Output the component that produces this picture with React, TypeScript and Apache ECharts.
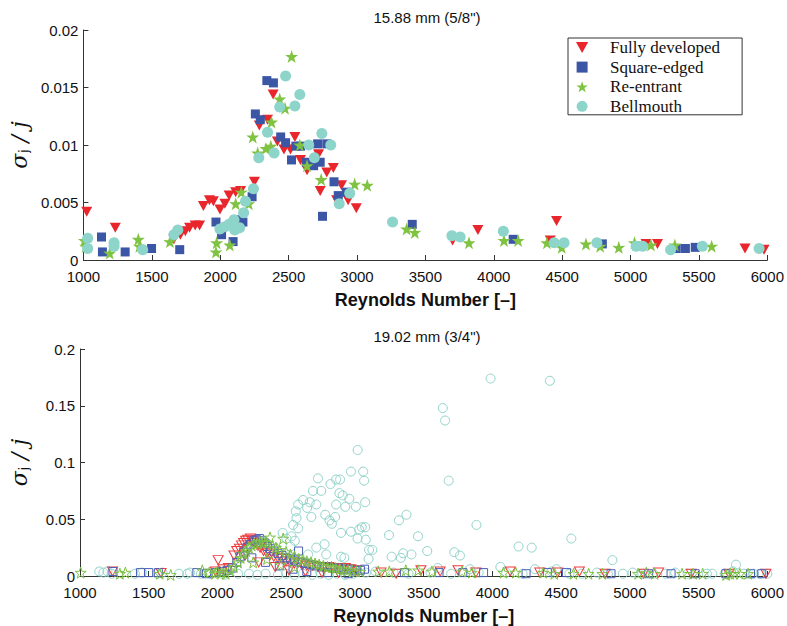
import React, { useEffect, useRef } from "react";
import * as echarts from "echarts";

// ---- 15.88 mm (5/8") tube ----
const fullyDevelopedTop: [number, number][] = [
  [1024, 0.0042], [1233, 0.0028], [1661, 0.0018], [1709, 0.0022], [1745, 0.0025], [1776, 0.0028],
  [1817, 0.003], [1849, 0.003], [1877, 0.0047], [1921, 0.0052], [1950, 0.0051], [1998, 0.0044],
  [2034, 0.0049], [2065, 0.0056], [2113, 0.0059], [2149, 0.006], [2250, 0.0068], [2286, 0.0117],
  [2346, 0.0122], [2387, 0.0144], [2418, 0.0103], [2466, 0.0096], [2514, 0.0096], [2546, 0.0107],
  [2587, 0.0087], [2635, 0.0078], [2719, 0.0092], [2731, 0.006], [2779, 0.0076], [2827, 0.008],
  [2851, 0.0052], [2887, 0.0065], [2935, 0.0052], [2995, 0.0045], [3699, 0.0017], [3884, 0.0026],
  [4413, 0.0017], [4459, 0.0034], [5113, 0.0014], [5197, 0.0014], [5837, 0.001], [5976, 0.0009],
];
const squareEdgedTop: [number, number][] = [
  [1132, 0.002], [1139, 0.0007], [1305, 0.0007], [1498, 0.001], [1704, 0.0009], [1969, 0.0033],
  [2010, 0.0022], [2094, 0.0016], [2118, 0.0035], [2166, 0.0033], [2233, 0.0055], [2257, 0.0127],
  [2293, 0.0122], [2341, 0.0156], [2389, 0.0154], [2442, 0.0107], [2478, 0.0102], [2521, 0.0087],
  [2553, 0.0099], [2587, 0.0099], [2630, 0.0085], [2683, 0.0082], [2712, 0.0101], [2731, 0.0085],
  [2748, 0.0038], [2779, 0.0101], [2832, 0.0068], [2863, 0.0056], [2923, 0.0059], [3404, 0.0031],
  [4142, 0.0018], [4794, 0.0014], [5334, 0.001], [5401, 0.001], [5473, 0.0011],
];
const reEntrantTop: [number, number][] = [
  [1007, 0.0017], [1017, 0.0012], [1192, 0.0006], [1401, 0.0018], [1409, 0.0012], [1632, 0.0016],
  [1969, 0.0007], [1974, 0.0015], [2070, 0.0013], [2113, 0.0049], [2154, 0.0059], [2209, 0.0049],
  [2238, 0.0107], [2274, 0.0093], [2334, 0.0097], [2370, 0.0099], [2375, 0.012], [2435, 0.014],
  [2474, 0.0132], [2522, 0.0177], [2582, 0.01], [2635, 0.0082], [2738, 0.007], [2983, 0.0066],
  [3075, 0.0065], [3363, 0.0027], [3423, 0.0024], [3819, 0.0015], [4075, 0.0017], [4178, 0.0017],
  [4389, 0.0015], [4497, 0.0011], [4674, 0.0014], [4778, 0.0012], [4914, 0.0011], [5029, 0.0015],
  [5149, 0.0013], [5324, 0.0013], [5593, 0.0012],
];
const bellmouthTop: [number, number][] = [
  [1031, 0.0019], [1031, 0.001], [1224, 0.0015], [1224, 0.0012], [1433, 0.0009], [1661, 0.0022],
  [1690, 0.0026], [1998, 0.0027], [2034, 0.0029], [2065, 0.0031], [2101, 0.0035], [2106, 0.0026],
  [2142, 0.0028], [2171, 0.0041], [2185, 0.0051], [2243, 0.0062], [2282, 0.0089], [2346, 0.0111],
  [2394, 0.0093], [2435, 0.0133], [2478, 0.016], [2546, 0.0134], [2582, 0.0144], [2647, 0.01],
  [2688, 0.0089], [2743, 0.011], [2808, 0.01], [2870, 0.0049], [2947, 0.0058], [3260, 0.0033],
  [3694, 0.0021], [3754, 0.002], [4070, 0.0025], [4442, 0.0015], [4514, 0.0015], [4754, 0.0015],
  [5041, 0.0012], [5089, 0.0012], [5293, 0.0009], [5525, 0.0012], [5940, 0.001],
];

// ---- 19.02 mm (3/4") tube ----
const fullyDevelopedBottom: [number, number][] = [
  [1237, 0.004], [1590, 0.0026], [1985, 0.004], [2005, 0.014], [2040, 0.006], [2080, 0.007],
  [2120, 0.018], [2140, 0.022], [2160, 0.024], [2175, 0.027], [2190, 0.029], [2205, 0.031],
  [2220, 0.032], [2240, 0.033], [2255, 0.031], [2270, 0.029], [2290, 0.027], [2310, 0.025],
  [2335, 0.022], [2360, 0.02], [2385, 0.019], [2410, 0.017], [2440, 0.016], [2470, 0.015],
  [2500, 0.013], [2530, 0.012], [2560, 0.011], [2590, 0.012], [2620, 0.01], [2650, 0.009],
  [2690, 0.009], [2730, 0.008], [2770, 0.007], [2810, 0.008], [2850, 0.007], [2890, 0.006],
  [2930, 0.007], [2970, 0.006], [3010, 0.005], [2200, 0.018], [2300, 0.012], [2420, 0.008],
  [2520, 0.005], [2640, 0.004], [2760, 0.003], [2880, 0.003], [3190, 0.003], [3300, 0.002],
  [3480, 0.005], [3620, 0.004], [3750, 0.005], [3880, 0.003], [4130, 0.004], [4345, 0.003],
  [4475, 0.003], [4633, 0.004], [4820, 0.002], [5100, 0.002], [5209, 0.003], [5446, 0.002],
  [5720, 0.002], [5990, 0.002],
];
const squareEdgedBottom: [number, number][] = [
  [1240, 0.004], [1440, 0.003], [1500, 0.003], [1570, 0.003], [1850, 0.003], [1920, 0.002],
  [1990, 0.003], [2030, 0.004], [2070, 0.005], [2110, 0.007], [2140, 0.012], [2165, 0.017],
  [2190, 0.021], [2215, 0.025], [2240, 0.028], [2265, 0.031], [2285, 0.032], [2305, 0.033],
  [2325, 0.031], [2345, 0.029], [2365, 0.026], [2385, 0.024], [2410, 0.022], [2440, 0.02],
  [2470, 0.018], [2500, 0.016], [2530, 0.015], [2560, 0.014], [2590, 0.022], [2610, 0.012],
  [2640, 0.011], [2680, 0.01], [2720, 0.009], [2760, 0.008], [2800, 0.008], [2840, 0.007],
  [2880, 0.007], [2920, 0.006], [2960, 0.006], [3000, 0.005], [3040, 0.005], [3070, 0.006],
  [2250, 0.016], [2350, 0.012], [2450, 0.009], [2550, 0.006], [2650, 0.004], [2800, 0.003],
  [2950, 0.002], [3360, 0.003], [3612, 0.003], [3785, 0.003], [3936, 0.003], [4245, 0.002],
  [4400, 0.003], [4539, 0.003], [4863, 0.002], [5137, 0.002], [5300, 0.002], [5475, 0.002],
  [5698, 0.002], [5878, 0.002], [5960, 0.002],
];
const reEntrantBottom: [number, number][] = [
  [1005, 0.003], [1290, 0.002], [1330, 0.003], [1580, 0.002], [1660, 0.001], [1890, 0.005],
  [1940, 0.003], [1980, 0.002], [2000, 0.004], [2030, 0.003], [2060, 0.002], [2090, 0.005],
  [2120, 0.008], [2150, 0.012], [2170, 0.016], [2190, 0.02], [2210, 0.022], [2230, 0.025],
  [2250, 0.027], [2270, 0.028], [2290, 0.029], [2310, 0.03], [2335, 0.03], [2360, 0.029],
  [2382, 0.034], [2400, 0.027], [2425, 0.025], [2450, 0.023], [2478, 0.033], [2500, 0.021],
  [2530, 0.019], [2560, 0.017], [2590, 0.015], [2620, 0.014], [2650, 0.013], [2680, 0.012],
  [2710, 0.011], [2740, 0.01], [2770, 0.009], [2800, 0.008], [2830, 0.008], [2860, 0.007],
  [2890, 0.006], [2920, 0.006], [2950, 0.005], [2980, 0.005], [3010, 0.004], [3040, 0.004],
  [2260, 0.012], [2360, 0.015], [2460, 0.01], [2560, 0.008], [3170, 0.004], [3250, 0.004],
  [3370, 0.005], [3460, 0.005], [3560, 0.004], [3780, 0.004], [3850, 0.003], [4080, 0.003],
  [4170, 0.003], [4370, 0.003], [4450, 0.002], [4590, 0.002], [4700, 0.002], [4800, 0.002],
  [5060, 0.002], [5120, 0.003], [5180, 0.002], [5380, 0.002], [5460, 0.002], [5530, 0.002],
  [5700, 0.001], [5730, 0.002], [5760, 0.002], [5800, 0.002], [5860, 0.002],
];
const bellmouthBottom: [number, number][] = [
  [3020, 0.111], [2971, 0.092], [3060, 0.092], [3067, 0.084], [2731, 0.086], [2863, 0.085],
  [2892, 0.085], [2695, 0.075], [2755, 0.075], [2822, 0.081], [2887, 0.073], [2911, 0.071],
  [2959, 0.068], [2930, 0.061], [3007, 0.061], [3075, 0.065], [2623, 0.067], [2587, 0.063],
  [2652, 0.06], [2671, 0.065], [2719, 0.063], [2784, 0.054], [2815, 0.049], [2863, 0.063],
  [2856, 0.052], [2570, 0.057], [2575, 0.051], [2550, 0.045], [2587, 0.042], [2683, 0.052],
  [2832, 0.046], [2899, 0.038], [2971, 0.039], [3031, 0.041], [3050, 0.043], [3075, 0.043],
  [3019, 0.033], [3079, 0.032], [2474, 0.038], [2502, 0.033], [2539, 0.035], [2563, 0.031],
  [2531, 0.026], [2659, 0.019], [2719, 0.025], [2779, 0.028], [2791, 0.019], [2899, 0.017],
  [2923, 0.016], [3103, 0.023], [3127, 0.023], [3099, 0.015], [3248, 0.036], [3320, 0.049],
  [3987, 0.174], [4418, 0.172], [3639, 0.148], [3656, 0.137], [3682, 0.084], [3375, 0.054],
  [3884, 0.045], [3459, 0.035], [4574, 0.033], [4190, 0.026], [4286, 0.025], [3526, 0.022],
  [3723, 0.021], [3764, 0.018], [3351, 0.02], [3411, 0.019], [3334, 0.016], [3267, 0.017],
  [4873, 0.014], [5772, 0.01], [3603, 0.007], [4058, 0.008], [4310, 0.006], [3836, 0.006],
  [4466, 0.006], [1140, 0.004], [1170, 0.003], [1200, 0.004], [1230, 0.002], [1400, 0.002],
  [1450, 0.003], [1560, 0.002], [1600, 0.003], [1720, 0.002], [1780, 0.002], [1800, 0.003],
  [1880, 0.002], [1950, 0.002], [2050, 0.001], [2150, 0.002], [2230, 0.002], [2290, 0.001],
  [2350, 0.002], [2440, 0.001], [2500, 0.002], [2560, 0.001], [2620, 0.002], [2690, 0.001],
  [2750, 0.002], [2810, 0.001], [2870, 0.002], [2930, 0.001], [2990, 0.002], [3080, 0.003],
  [3150, 0.004], [3280, 0.003], [3390, 0.002], [3550, 0.003], [3700, 0.002], [3900, 0.003],
  [4100, 0.003], [4220, 0.002], [4430, 0.004], [4560, 0.002], [4650, 0.002], [4760, 0.003],
  [4840, 0.002], [4950, 0.002], [5020, 0.003], [5090, 0.002], [5170, 0.002], [5260, 0.002],
  [5330, 0.003], [5420, 0.002], [5560, 0.002], [5600, 0.002], [5690, 0.002], [5750, 0.004],
  [5830, 0.002], [5900, 0.002], [5950, 0.002], [6000, 0.002],
];

const seriesNames = ["Fully developed", "Square-edged", "Re-entrant", "Bellmouth"];
const xTicks = { min: 1000, max: 6000, interval: 500 };
const topY = { min: 0, max: 0.02, interval: 0.005 };
const bottomY = { min: 0, max: 0.2, interval: 0.05 };
const titles = ['15.88 mm (5/8")', '19.02 mm (3/4")'];

const RED = "#e8262b";
const BLUE = "#3b56a5";
const GREEN = "#80c342";
const CYAN = "#8dd4ca";

const TRI_DOWN = "path://M0,0 L10,0 L5,9 Z";
const SQUARE = "path://M0,0 H10 V10 H0 Z";
const STAR =
  "path://M50,0 L61.8,35.1 L97.6,34.5 L69,56.9 L79.4,90.5 L50,70 L20.6,90.5 L31,56.9 L2.4,34.5 L38.2,35.1 Z";
const CIRCLE = "path://M5,0 A5,5 0 1 1 5,10 A5,5 0 1 1 5,0 Z";

const SANS = "Liberation Sans, Arial, sans-serif";

function xAxis(gridIndex: number) {
  return {
    type: "value",
    gridIndex,
    ...xTicks,
    name: "Reynolds Number [–]",
    nameLocation: "middle",
    nameGap: 31,
    nameTextStyle: { fontFamily: SANS, fontWeight: "bold", fontSize: 18, color: "#111" },
    axisLine: { show: true, onZero: false, lineStyle: { color: "#333", width: 1 } },
    axisTick: { show: true, inside: true, length: 5, lineStyle: { color: "#333" } },
    axisLabel: {
      fontFamily: SANS,
      fontSize: 15,
      color: "#111",
      margin: 9,
      formatter: (v: number) => String(v),
    },
    splitLine: { show: false },
  };
}

function yAxis(gridIndex: number, range: { min: number; max: number; interval: number }) {
  return {
    type: "value",
    gridIndex,
    ...range,
    name: "{s|σ}{b|j}{s| / j}",
    nameLocation: "middle",
    nameRotate: 90,
    nameGap: 50,
    nameTextStyle: {
      rich: {
        s: { fontFamily: "DejaVu Serif", fontStyle: "italic", fontSize: 22, color: "#111" },
        b: { fontFamily: "DejaVu Sans", fontSize: 12, color: "#111", padding: [10, 0, 0, 1] },
      },
    },
    axisLine: { show: true, lineStyle: { color: "#333", width: 1 } },
    axisTick: { show: true, inside: true, length: 5, lineStyle: { color: "#333" } },
    axisLabel: { fontFamily: SANS, fontSize: 15, color: "#111", margin: 5 },
    splitLine: { show: false },
  };
}

function filled(name: string, data: [number, number][], symbol: string, size: any, color: string) {
  return {
    type: "scatter",
    name,
    xAxisIndex: 0,
    yAxisIndex: 0,
    data,
    symbol,
    symbolSize: size,
    itemStyle: { color, opacity: 1 },
  };
}

function hollow(name: string, data: [number, number][], symbol: string, size: any, color: string) {
  return {
    type: "scatter",
    name,
    xAxisIndex: 1,
    yAxisIndex: 1,
    data,
    symbol,
    symbolSize: size,
    itemStyle: { color: "rgba(0,0,0,0)", borderColor: color, borderWidth: 1, opacity: 1 },
  };
}

export default function App() {
  const ref = useRef<HTMLDivElement>(null);

  useEffect(() => {
    if (!ref.current) return;
    const chart = echarts.init(ref.current, null, { renderer: "svg" });
    chart.setOption({
      animation: false,
      backgroundColor: "#ffffff",
      title: [
        {
          text: titles[0],
          left: 422,
          top: 5,
          textAlign: "center",
          textStyle: { fontFamily: SANS, fontSize: 15, fontWeight: "normal", color: "#111" },
        },
        {
          text: titles[1],
          left: 422,
          top: 324,
          textAlign: "center",
          textStyle: { fontFamily: SANS, fontSize: 15, fontWeight: "normal", color: "#111" },
        },
      ],
      legend: {
        orient: "vertical",
        left: 568,
        top: 38,
        padding: [1, 22, 0, 8],
        itemGap: 2.6,
        itemWidth: 46,
        itemHeight: 11,
        borderColor: "#333",
        borderWidth: 1,
        backgroundColor: "#fff",
        selectedMode: false,
        textStyle: {
          fontFamily: "Liberation Serif, Times New Roman, serif",
          fontSize: 17,
          color: "#111",
        },
        data: [
          { name: seriesNames[0], icon: TRI_DOWN, itemStyle: { color: RED } },
          { name: seriesNames[1], icon: SQUARE, itemStyle: { color: BLUE } },
          { name: seriesNames[2], icon: STAR, itemStyle: { color: GREEN } },
          { name: seriesNames[3], icon: CIRCLE, itemStyle: { color: CYAN } },
        ],
      },
      grid: [
        { left: 75, right: 17, top: 30, height: 230 },
        { left: 75, right: 17, top: 349, height: 229 },
      ],
      xAxis: [xAxis(0), xAxis(1)],
      yAxis: [yAxis(0, topY), yAxis(1, bottomY)],
      series: [
        filled(seriesNames[0], fullyDevelopedTop, TRI_DOWN, [11, 10], RED),
        filled(seriesNames[1], squareEdgedTop, SQUARE, 9, BLUE),
        filled(seriesNames[2], reEntrantTop, STAR, 13, GREEN),
        filled(seriesNames[3], bellmouthTop, "circle", 11, CYAN),
        hollow("Bellmouth 19.02", bellmouthBottom, "circle", 9, "#8fd3c9"),
        hollow("Fully developed 19.02", fullyDevelopedBottom, TRI_DOWN, [10, 9], "#f0393b"),
        hollow("Square-edged 19.02", squareEdgedBottom, SQUARE, 8, "#4b5fb5"),
        hollow("Re-entrant 19.02", reEntrantBottom, STAR, 11, "#7cc143"),
      ],
    });
    return () => chart.dispose();
  }, []);

  return (
    <div
      ref={ref}
      style={{ position: "fixed", left: 0, top: 0, width: 787, height: 626, background: "#fff" }}
    />
  );
}
